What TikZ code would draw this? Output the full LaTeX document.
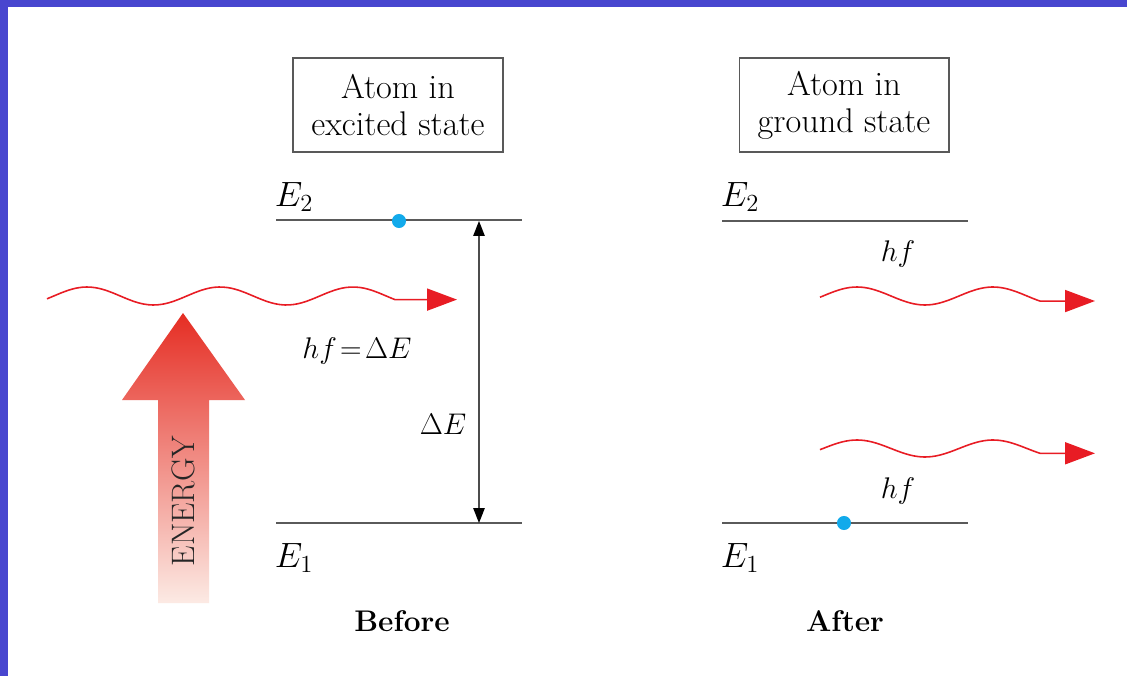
\RequirePackage{fix-cm}
\documentclass[tikz,border=0pt]{standalone}
\usepackage{fontspec}
\usepackage{amsmath}
\usepackage{xcolor}
\usepackage{tikz}
\usetikzlibrary{
	arrows.meta,
	calc,
	positioning
}
\definecolor{frameblue}{RGB}{72,70,207}
\definecolor{photonred}{RGB}{232,28,36}
\definecolor{dotblue}{RGB}{18,170,235}
\definecolor{levelgray}{RGB}{90,90,90}
\definecolor{energytop}{RGB}{229,45,35}
\definecolor{energybot}{RGB}{252,234,228}

\begin{document}
\begin{tikzpicture}[x=0.02cm, y=-0.02cm,
		energylevel/.style={levelgray, line width=1.1pt},
		photon/.style={photonred, line width=0.9pt, -{Triangle[length=17pt, width=12.5pt]}},
		electron/.style={circle, fill=dotblue, inner sep=0pt, minimum size=8pt},
		statebox/.style={draw=black!65, line width=1.1pt, minimum width=119pt, minimum height=54pt, align=center, inner sep=0pt, font=\fontsize{19.5}{21}\selectfont},
		lvllabel/.style={inner sep=0pt, font=\fontsize{20}{24}\selectfont},
		mathlabel/.style={inner sep=0pt, font=\fontsize{17}{20}\selectfont},
		caption/.style={inner sep=0pt, font=\fontsize{17}{20}\selectfont\bfseries}
	]
		\useasboundingbox (0,0) rectangle (1127,676);
		\fill[white] (0,0) rectangle (1127,676);
		\fill[frameblue] (0,0) rectangle (1127,7);
		\fill[frameblue] (0,0) rectangle (8,676);
		
		\shade[top color=energytop, bottom color=energybot] (183,313) -- (245,400) -- (209,400) -- (209,603) -- (158,603) -- (158,400) -- (122,400) -- cycle;
		\node[rotate=90, inner sep=0pt, text=black!85, font=\fontsize{18.5}{20}\selectfont] (energy) at (183,501) {ENERGY};
		
		\node[statebox] (exbox) at (398,105) {Atom in\\excited state};
		\node[statebox] (gdbox) at (844,105) {Atom in\\ground state};
		
		\coordinate (bE2w) at (276,220);
		\coordinate (bE2e) at (522,220);
		\coordinate (bE1w) at (276,523);
		\coordinate (bE1e) at (522,523);
		\coordinate (aE2w) at (722,221);
		\coordinate (aE2e) at (968,221);
		\coordinate (aE1w) at (722,523);
		\coordinate (aE1e) at (968,523);
		\draw[energylevel] (bE2w) -- (bE2e);
		\draw[energylevel] (bE1w) -- (bE1e);
		\draw[energylevel] (aE2w) -- (aE2e);
		\draw[energylevel] (aE1w) -- (aE1e);
		
		\node[lvllabel] (bE2lab) at (294,197) {$E_2$};
		\node[lvllabel] (bE1lab) at (294,558) {$E_1$};
		\node[lvllabel] (aE2lab) at (740,197) {$E_2$};
		\node[lvllabel] (aE1lab) at (740,558) {$E_1$};
		
		\node[electron] (bdot) at (399,221) {};
		\node[electron] (adot) at (844,523) {};
		
		\coordinate (dEtop) at (479,221);
		\coordinate (dEbot) at (479,523);
		\draw[black!70, line width=0.8pt, {Triangle[length=8.5pt, width=6.5pt, color=black]}-{Triangle[length=8.5pt, width=6.5pt, color=black]}] (dEtop) -- (dEbot);
		\node[mathlabel] (dElab) at (443,424) {$\Delta E$};
		
		\coordinate (inTip) at (457,299.6);
		\draw[photon, domain=47:395, smooth, samples=80, variable=\x] 
		plot ({\x}, {296-9*sin(360/133*(\x-53.75))}) -- (inTip);
		\node[mathlabel] (hfdE) at (357,351) {$hf\!=\!\Delta E$};
		
		\coordinate (outTipA) at (1095,301);
		\coordinate (outTipB) at (1095,453.3);
		\draw[photon, domain=820:1040, smooth, samples=60, variable=\x] 
		plot ({\x}, {296-9*sin(360/136*(\x-823))}) -- (outTipA);
		\draw[photon, domain=820:1040, smooth, samples=60, variable=\x] 
		plot ({\x}, {448.5-8.5*sin(360/136*(\x-823))}) -- (outTipB);
		\node[mathlabel] (hfA) at (898,254) {$hf$};
		\node[mathlabel] (hfB) at (898,491) {$hf$};
		
		\node[caption] (before) at (402,621) {Before};
		\node[caption] (after) at (845,621) {After};
	\end{tikzpicture}
\end{document}
